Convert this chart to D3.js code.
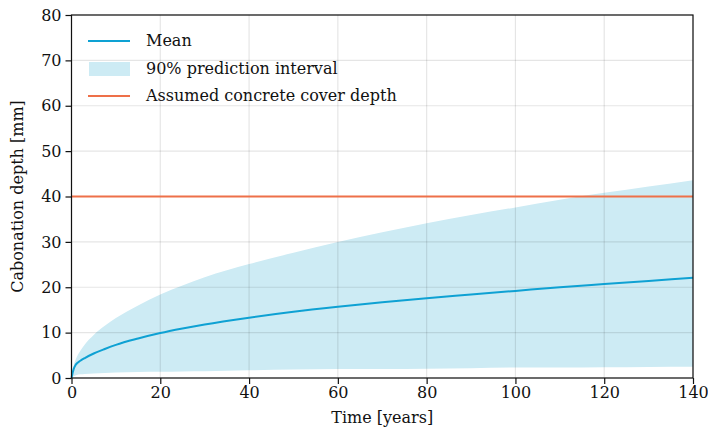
<!DOCTYPE html>
<html>
<head>
<meta charset="utf-8">
<script src="https://cdn.jsdelivr.net/npm/d3@7"></script>
<style>
  body { margin: 0; background: #fff; }
  svg { font-family: 'DejaVu Serif', serif; }
  .tick text { font-size: 16px; fill: #111; }
</style>
</head>
<body>
<svg></svg>
<script>
let width = 708;
let height = 432;

// values
let years = [0, 0.5, 1, 2, 3, 5, 7.5, 10, 15, 20, 25, 30, 40, 50, 60, 70, 80, 90, 100, 110, 120, 130, 140];
let meanDepth = [0, 2.0, 3.0, 3.8, 4.4, 5.4, 6.4, 7.3, 8.7, 9.9, 10.9, 11.8, 13.3, 14.6, 15.7, 16.7, 17.6, 18.4, 19.2, 20.0, 20.7, 21.4, 22.1];
let upperDepth = [0, 2.8, 4.2, 6.0, 7.4, 9.5, 11.5, 13.2, 16.0, 18.4, 20.4, 22.2, 25.1, 27.6, 30.0, 32.1, 34.1, 35.9, 37.6, 39.3, 40.8, 42.2, 43.6];
let lowerDepth = [0, 0.4, 0.6, 0.8, 0.9, 1.0, 1.1, 1.2, 1.3, 1.35, 1.45, 1.5, 1.7, 1.85, 2.0, 2.0, 2.05, 2.15, 2.3, 2.3, 2.35, 2.45, 2.5];
let coverDepth = 40;
let xTicks = [0, 20, 40, 60, 80, 100, 120, 140];
let yTicks = [0, 10, 20, 30, 40, 50, 60, 70, 80];
let legendLabels = ['Mean', '90% prediction interval', 'Assumed concrete cover depth'];

let margin = {left: 71.5, right: 15, top: 15, bottom: 54};

let svg = d3.select('svg')
    .attr('width', width)
    .attr('height', height)

let x = d3.scaleLinear()
    .domain([0, 140])
    .range([margin.left, width - margin.right]);

let y = d3.scaleLinear()
    .domain([0, 80])
    .range([height - margin.bottom, margin.top]);

let table = years.map(function (t, i) {
    return {t: t, mean: meanDepth[i], lo: lowerDepth[i], hi: upperDepth[i]};
});

let area = d3.area()
    .x(d => x(d.t))
    .y0(d => y(d.lo))
    .y1(d => y(d.hi))
    .curve(d3.curveMonotoneX);

let line = d3.line()
    .x(d => x(d.t))
    .y(d => y(d.mean))
    .curve(d3.curveMonotoneX);

svg.append('path')
    .datum(table)
    .attr('d', area)
    .attr('fill', '#cdebf4');

// grid
svg.append('g').selectAll('line')
    .data(xTicks)
    .enter()
    .append('line')
    .attr('x1', d => x(d)).attr('x2', d => x(d))
    .attr('y1', y(0)).attr('y2', y(80))
    .attr('stroke', 'rgba(0,0,0,0.1)')
    .attr('stroke-width', 1.2);

svg.append('g').selectAll('line')
    .data(yTicks)
    .enter()
    .append('line')
    .attr('x1', x(0)).attr('x2', x(140))
    .attr('y1', d => y(d)).attr('y2', d => y(d))
    .attr('stroke', 'rgba(0,0,0,0.1)')
    .attr('stroke-width', 1.2);

svg.append('line')
    .attr('x1', x(0)).attr('x2', x(140))
    .attr('y1', y(coverDepth)).attr('y2', y(coverDepth))
    .attr('stroke', '#ee7049')
    .attr('stroke-width', 2);

svg.append('path')
    .datum(table)
    .attr('d', line)
    .attr('fill', 'none')
    .attr('stroke', '#0ea1d3')
    .attr('stroke-width', 2);

// frame
svg.append('rect')
    .attr('x', x(0))
    .attr('y', y(80))
    .attr('width', x(140) - x(0))
    .attr('height', y(0) - y(80))
    .attr('fill', 'none')
    .attr('stroke', '#111')
    .attr('stroke-width', 1.2);

let xAxis = svg.append('g')
    .attr('transform', 'translate(0,' + y(0) + ')')
    .call(d3.axisBottom(x).tickValues(xTicks).tickSize(6).tickPadding(3).tickFormat(d3.format('d')));

let yAxis = svg.append('g')
    .attr('transform', 'translate(' + x(0) + ',0)')
    .call(d3.axisLeft(y).tickValues(yTicks).tickSize(6).tickPadding(4).tickFormat(d3.format('d')));

[xAxis, yAxis].forEach(function (a) {
    a.select('.domain').remove();
    a.selectAll('.tick line').attr('stroke', '#111').attr('stroke-width', 1.2);
    a.selectAll('.tick text').attr('font-family', 'DejaVu Serif');
});

svg.append('text')
    .attr('x', (x(0) + x(140)) / 2)
    .attr('y', 423)
    .attr('text-anchor', 'middle')
    .attr('font-size', 16)
    .attr('fill', '#111')
    .text('Time [years]');

svg.append('text')
    .attr('transform', 'translate(23,' + (y(0) + y(80)) / 2 + ') rotate(-90)')
    .attr('text-anchor', 'middle')
    .attr('font-size', 16)
    .attr('fill', '#111')
    .text('Cabonation depth [mm]');

// legend
let legend = svg.append('g');
let rowY = [41, 69, 96];

legend.append('line')
    .attr('x1', 88).attr('x2', 130)
    .attr('y1', rowY[0]).attr('y2', rowY[0])
    .attr('stroke', '#0ea1d3').attr('stroke-width', 2);

legend.append('rect')
    .attr('x', 89).attr('y', rowY[1] - 7)
    .attr('width', 41).attr('height', 14)
    .attr('fill', '#cdebf4');

legend.append('line')
    .attr('x1', 88).attr('x2', 130)
    .attr('y1', rowY[2]).attr('y2', rowY[2])
    .attr('stroke', '#ee7049').attr('stroke-width', 2);

legend.selectAll('text')
    .data(legendLabels)
    .enter()
    .append('text')
    .attr('x', 146)
    .attr('y', (d, i) => rowY[i] + 5)
    .attr('font-size', 16)
    .attr('fill', '#111')
    .text(d => d);
</script>
</body>
</html>
